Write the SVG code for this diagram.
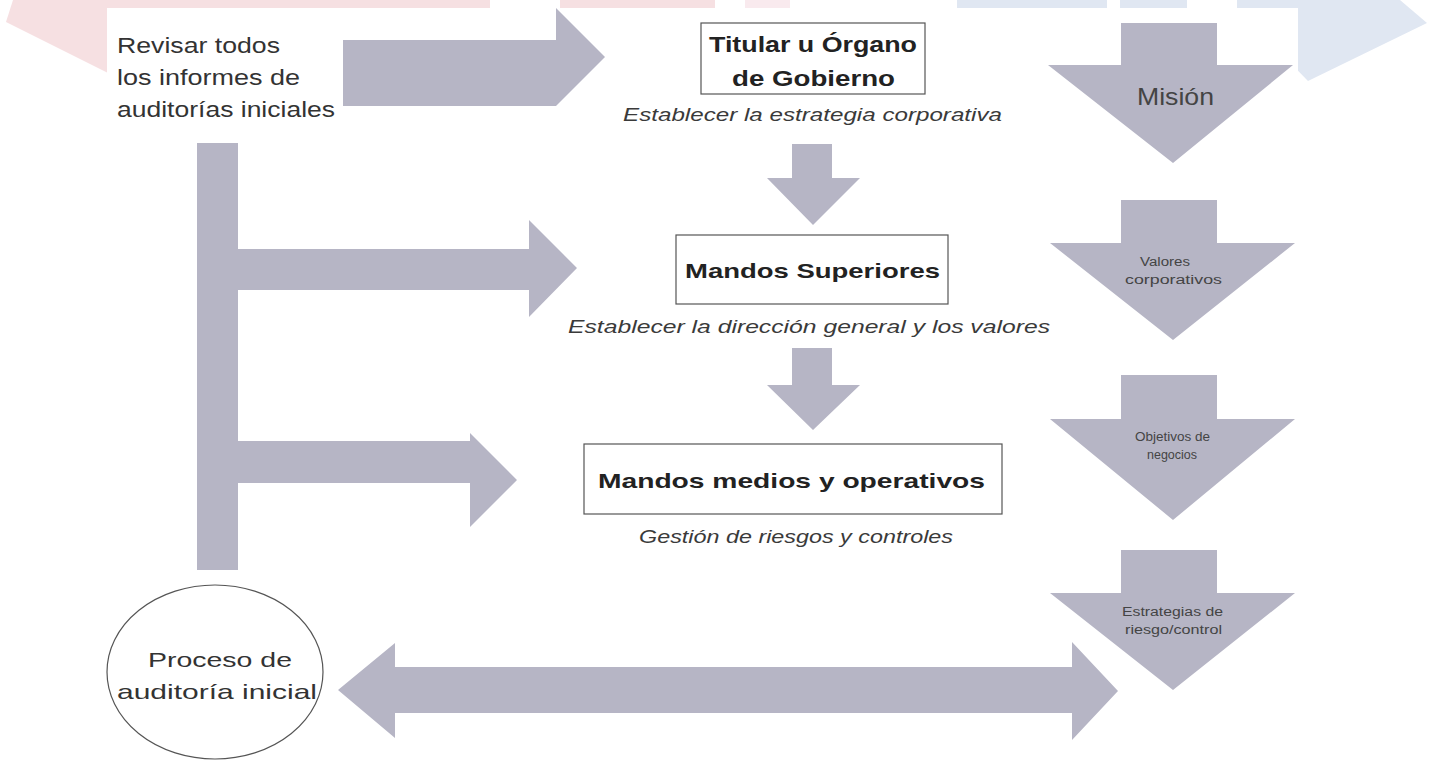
<svg xmlns="http://www.w3.org/2000/svg" width="1429" height="761" viewBox="0 0 1429 761">
<style>
.g{fill:#b6b5c5}
.box{fill:#fff;stroke:#555;stroke-width:1.2}
.t{font-family:"Liberation Sans",Arial,sans-serif;fill:#333}
.b{font-weight:bold;fill:#222}
.i{font-style:italic;fill:#3a3a3a}
.s{fill:#444}
</style>
<rect x="0" y="0" width="1429" height="761" fill="#fff"/>
<g id="watermark">
<polygon points="13,0 300,0 300,169 6,22" fill="#f6e0e2"/>
<polygon points="290,0 490,0 490,8 290,8" fill="#f6e0e2"/>
<polygon points="560,0 715,0 715,8 560,8" fill="#f6e0e2"/>
<polygon points="745,0 790,0 790,8 745,8" fill="#f9eaee"/>
<polygon points="957,0 1107,0 1107,8 957,8" fill="#e0e7f2"/>
<polygon points="1120,0 1187,0 1187,8 1120,8" fill="#e0e7f2"/>
<polygon points="1237,0 1400,0 1427,23 1308,81 1237,8" fill="#e0e7f2"/>
</g>
<rect x="107" y="8" width="1191" height="753" fill="#fff"/>
<g id="connectors">
<polygon class="g" points="343,40 556,40 556,8 605,57 556,106 343,106"/>
<rect class="g" x="197" y="143" width="41" height="427"/>
<polygon class="g" points="238,249 529,249 529,220 577,268 529,317 529,290 238,290"/>
<polygon class="g" points="238,441 470,441 470,433 517,480 470,527 470,483 238,483"/>
<polygon class="g" points="792,144 832,144 832,178 860,178 813,225 767,178 792,178"/>
<polygon class="g" points="792,348 832,348 832,385 860,385 813,430 767,385 792,385"/>
<polygon class="g" points="338,690 395,643 395,667 1072,667 1072,642 1118,691 1072,740 1072,713 395,713 395,738"/>
</g>
<g id="revisar">
<text class="t" x="117" y="53" font-size="22" textLength="163" lengthAdjust="spacingAndGlyphs">Revisar todos</text>
<text class="t" x="117" y="85" font-size="22" textLength="183" lengthAdjust="spacingAndGlyphs">los informes de</text>
<text class="t" x="117" y="117" font-size="22" textLength="218" lengthAdjust="spacingAndGlyphs">auditorías iniciales</text>
</g>
<g id="titular">
<rect class="box" x="701" y="23" width="224" height="71"/>
<text class="t b" x="709" y="52" font-size="22" textLength="208" lengthAdjust="spacingAndGlyphs">Titular u Órgano</text>
<text class="t b" x="732" y="86" font-size="22" textLength="163" lengthAdjust="spacingAndGlyphs">de Gobierno</text>
<text class="t i" x="623" y="121" font-size="18" textLength="379" lengthAdjust="spacingAndGlyphs">Establecer la estrategia corporativa</text>
</g>
<g id="superiores">
<rect class="box" x="676" y="235" width="272" height="69"/>
<text class="t b" x="685" y="278" font-size="21" textLength="255" lengthAdjust="spacingAndGlyphs">Mandos Superiores</text>
<text class="t i" x="568" y="333" font-size="18" textLength="482" lengthAdjust="spacingAndGlyphs">Establecer la dirección general y los valores</text>
</g>
<g id="medios">
<rect class="box" x="584" y="444" width="418" height="70"/>
<text class="t b" x="598" y="488" font-size="21" textLength="387" lengthAdjust="spacingAndGlyphs">Mandos medios y operativos</text>
<text class="t i" x="639" y="543" font-size="18" textLength="314" lengthAdjust="spacingAndGlyphs">Gestión de riesgos y controles</text>
</g>
<g id="proceso">
<ellipse cx="215" cy="672" rx="108" ry="87" fill="#fff" stroke="#555" stroke-width="1.2"/>
<text class="t" x="148" y="667" font-size="21" textLength="144" lengthAdjust="spacingAndGlyphs">Proceso de</text>
<text class="t" x="117" y="699" font-size="21" textLength="200" lengthAdjust="spacingAndGlyphs">auditoría inicial</text>
</g>
<g id="mision">
<polygon class="g" points="1121,23 1217,23 1217,65 1293,65 1173,163 1048,65 1121,65"/>
<text class="t s" x="1137" y="105" font-size="24" textLength="77" lengthAdjust="spacingAndGlyphs">Misión</text>
</g>
<g id="valores">
<polygon class="g" points="1121,200 1217,200 1217,243 1295,243 1173,340 1050,243 1121,243"/>
<text class="t s" x="1140" y="266" font-size="12" textLength="50" lengthAdjust="spacingAndGlyphs">Valores</text>
<text class="t s" x="1125" y="284" font-size="12" textLength="97" lengthAdjust="spacingAndGlyphs">corporativos</text>
</g>
<g id="objetivos">
<polygon class="g" points="1121,375 1217,375 1217,419 1295,419 1173,520 1050,419 1121,419"/>
<text class="t s" x="1135" y="441" font-size="12" textLength="75" lengthAdjust="spacingAndGlyphs">Objetivos de</text>
<text class="t s" x="1147" y="459" font-size="12" textLength="50" lengthAdjust="spacingAndGlyphs">negocios</text>
</g>
<g id="estrategias">
<polygon class="g" points="1121,550 1217,550 1217,593 1295,593 1173,690 1050,593 1121,593"/>
<text class="t s" x="1122" y="616" font-size="12" textLength="101" lengthAdjust="spacingAndGlyphs">Estrategias de</text>
<text class="t s" x="1125" y="634" font-size="12" textLength="97" lengthAdjust="spacingAndGlyphs">riesgo/control</text>
</g>
</svg>
